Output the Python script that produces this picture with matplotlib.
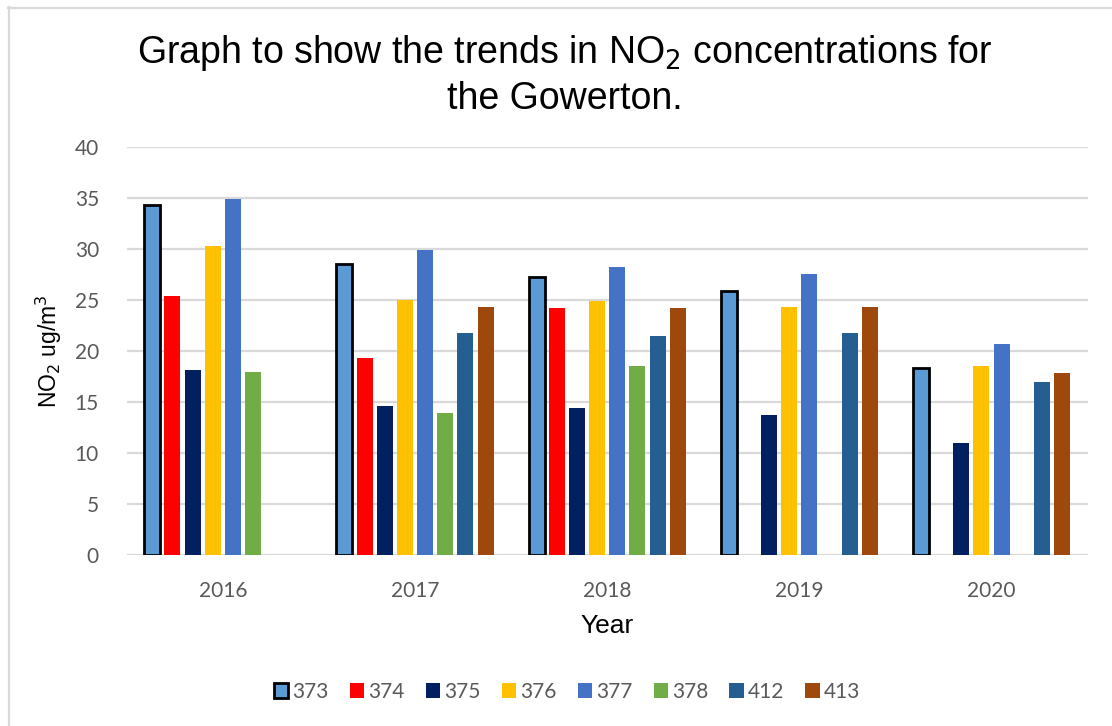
import matplotlib.pyplot as plt
import numpy as np
from matplotlib.lines import Line2D

# NO2 annual means (ug/m3) per diffusion tube site, nan = no data that year
years = ["2016", "2017", "2018", "2019", "2020"]
sites = ["373", "374", "375", "376", "377", "378", "412", "413"]

site_373 = [34.3, 28.5, 27.2, 25.9, 18.3]
site_374 = [25.4, 19.3, 24.2, np.nan, np.nan]
site_375 = [18.1, 14.6, 14.4, 13.7, 11.0]
site_376 = [30.3, 25.0, 24.9, 24.3, 18.5]
site_377 = [34.9, 29.9, 28.2, 27.5, 20.7]
site_378 = [17.9, 13.9, 18.5, np.nan, np.nan]
site_412 = [np.nan, 21.7, 21.5, 21.7, 16.9]
site_413 = [np.nan, 24.3, 24.2, 24.3, 17.8]

series = [site_373, site_374, site_375, site_376, site_377, site_378, site_412, site_413]
colours = ["#5B9BD5", "#FF0000", "#002060", "#FFC000", "#4472C4", "#70AD47", "#255E91", "#9E480E"]

tick_font = "Lato"
grey = "#595959"

fig = plt.figure(figsize=(11.12, 7.26), dpi=100)
ax = fig.add_axes([0.114, 0.2355, 0.864, 0.5625])

x = np.arange(len(years))
step = 0.105
width = 0.083
bars = []
for i, (vals, col) in enumerate(zip(series, colours)):
    if i == 0:
        b = ax.bar(x + (i - 3.5) * step, vals, width, color=col,
                   edgecolor="black", linewidth=2.0, zorder=3)
    else:
        b = ax.bar(x + (i - 3.5) * step, vals, width, color=col, zorder=3)
    bars.append(b)

ax.set_xlim(-0.5, 4.5)
ax.set_ylim(0, 40)
ax.set_yticks(range(0, 41, 5))
ax.set_xticks(x)
ax.set_xticklabels(years)
ax.yaxis.grid(True, color="#d9d9d9", linewidth=1.6, zorder=0)
for s in ax.spines.values():
    s.set_visible(False)
ax.tick_params(length=0, labelcolor=grey, labelsize=15)
ax.tick_params(axis="y", pad=20)
ax.tick_params(axis="x", pad=19)
for lab in ax.get_xticklabels() + ax.get_yticklabels():
    lab.set_fontfamily(tick_font)

ax.set_ylabel("NO$_2$ ug/m$^3$", fontsize=16.5, fontfamily="Liberation Sans", labelpad=8)
ax.set_xlabel("Year", fontsize=19, fontfamily="Liberation Sans", labelpad=9)

fig.text(0.508, 0.955, "Graph to show the trends in NO$_2$ concentrations for\nthe Gowerton.",
         ha="center", va="top", fontsize=27, fontfamily="Liberation Sans",
         linespacing=1.3)

leg = fig.legend(bars, sites, loc="center", bbox_to_anchor=(0.51, 0.047), ncol=8,
                 frameon=False, handlelength=0.7, handleheight=0.7,
                 handletextpad=0.2, columnspacing=1.0,
                 prop={"family": tick_font, "size": 15})
for t in leg.get_texts():
    t.set_color(grey)

# light frame round the chart area
fig.add_artist(Line2D([8 / 1112, 1.0], [1 - 7.5 / 726] * 2, color="#d9d9d9", linewidth=1.6))
fig.add_artist(Line2D([8.5 / 1112] * 2, [0.0, 1 - 7 / 726], color="#d9d9d9", linewidth=1.6))

fig.savefig("out.png", dpi=100)
